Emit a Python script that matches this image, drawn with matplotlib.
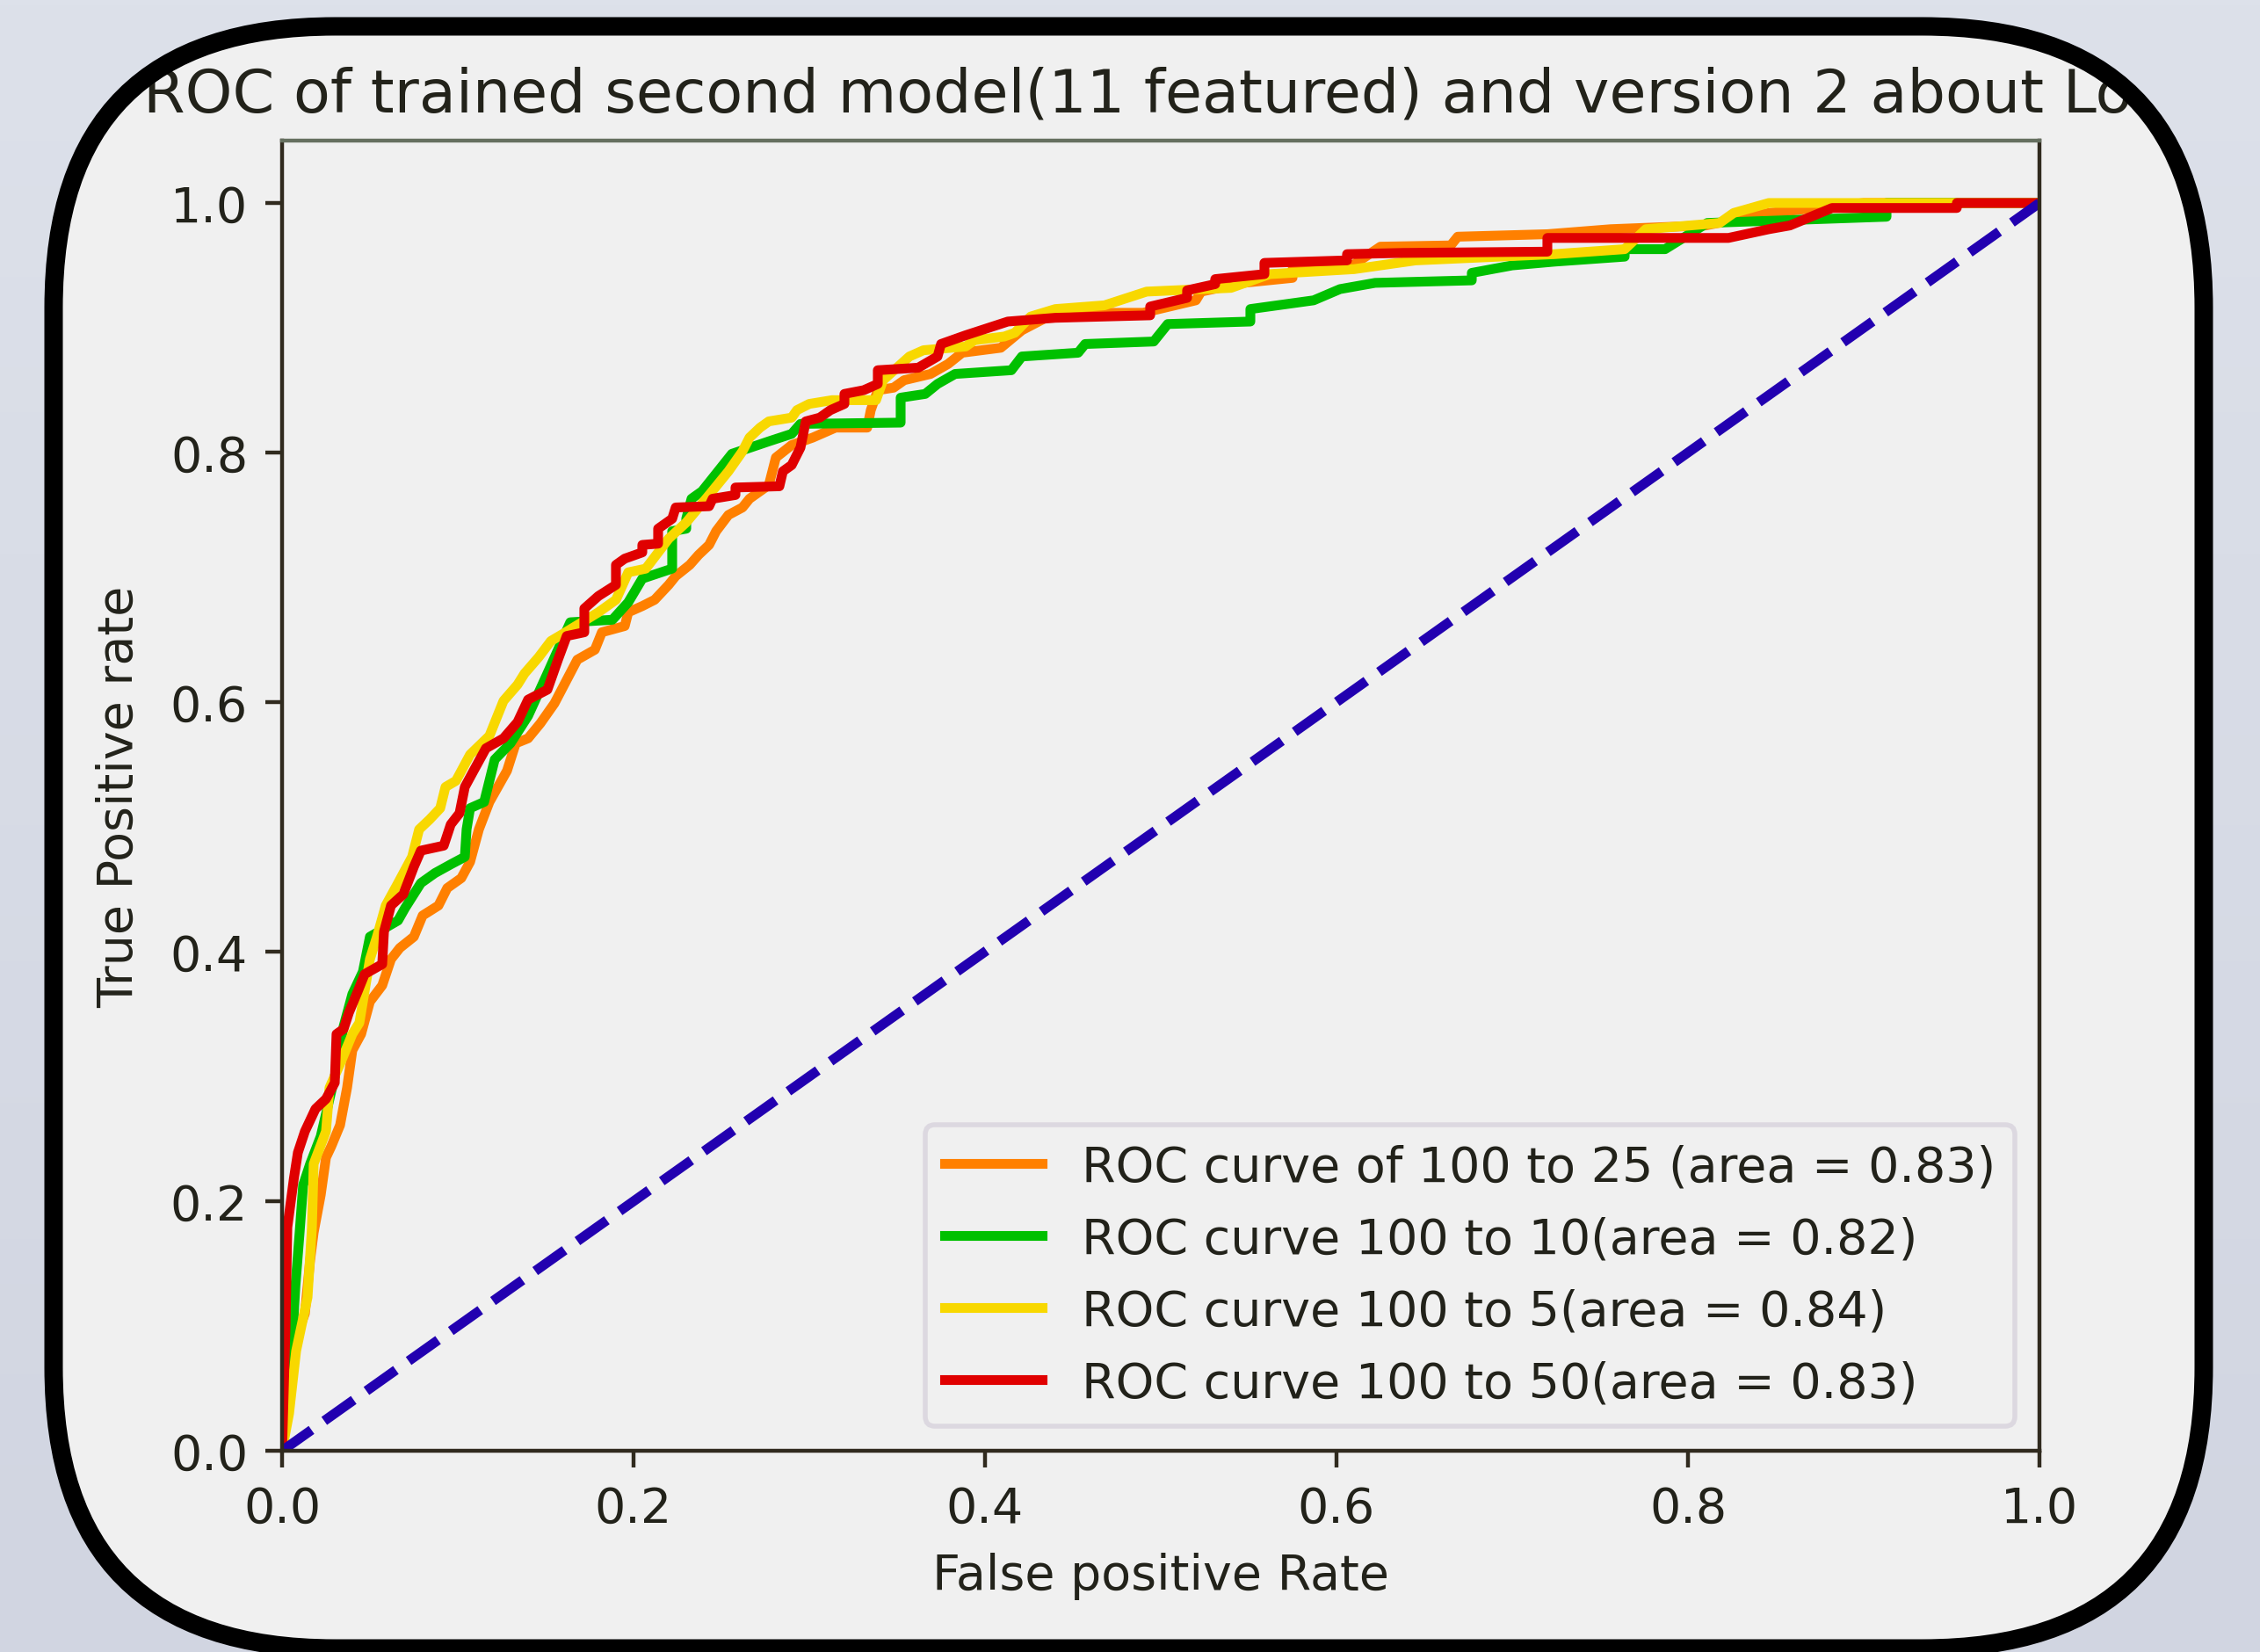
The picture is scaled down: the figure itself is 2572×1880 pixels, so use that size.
import numpy as np
import matplotlib
matplotlib.use('Agg')
import matplotlib.pyplot as plt
from matplotlib.patches import FancyBboxPatch
from matplotlib.colors import LinearSegmentedColormap

# ROC points, (fpr, tpr)
roc_25 = [(0, 0), (0.003, 0.088), (0.0085, 0.093), (0.013, 0.11), (0.016, 0.153), (0.018, 0.175),
          (0.022, 0.205), (0.025, 0.235), (0.028, 0.244), (0.033, 0.261), (0.037, 0.291), (0.04, 0.321),
          (0.045, 0.334), (0.05, 0.36), (0.057, 0.373), (0.062, 0.394), (0.067, 0.403), (0.075, 0.412),
          (0.08, 0.429), (0.089, 0.437), (0.094, 0.451), (0.102, 0.459), (0.107, 0.472), (0.112, 0.498),
          (0.118, 0.52), (0.128, 0.545), (0.133, 0.567), (0.14, 0.571), (0.147, 0.583), (0.155, 0.599),
          (0.168, 0.634), (0.178, 0.642), (0.182, 0.656), (0.195, 0.661), (0.197, 0.672), (0.205, 0.677),
          (0.212, 0.682), (0.22, 0.694), (0.224, 0.701), (0.232, 0.71), (0.237, 0.718), (0.243, 0.726),
          (0.247, 0.737), (0.254, 0.75), (0.262, 0.756), (0.266, 0.763), (0.277, 0.774), (0.281, 0.796),
          (0.29, 0.806), (0.302, 0.812), (0.315, 0.82), (0.333, 0.82), (0.335, 0.834), (0.339, 0.85),
          (0.348, 0.852), (0.354, 0.858), (0.369, 0.863), (0.379, 0.871), (0.387, 0.88), (0.409, 0.884),
          (0.421, 0.898), (0.44, 0.912), (0.49, 0.912), (0.52, 0.922), (0.523, 0.929), (0.547, 0.936),
          (0.575, 0.94), (0.575, 0.947), (0.606, 0.947), (0.625, 0.965), (0.665, 0.966), (0.669, 0.973),
          (0.72, 0.975), (0.756, 0.979), (0.81, 0.982), (0.846, 0.992), (0.9, 1.0), (1.0, 1.0)]

roc_10 = [(0, 0), (0.004, 0.05), (0.006, 0.093), (0.0076, 0.132), (0.01, 0.175), (0.012, 0.213),
          (0.016, 0.23), (0.022, 0.252), (0.03, 0.3), (0.035, 0.34), (0.04, 0.366), (0.046, 0.384),
          (0.05, 0.412), (0.066, 0.425), (0.07, 0.435), (0.079, 0.455), (0.087, 0.463), (0.096, 0.47),
          (0.104, 0.476), (0.105, 0.498), (0.107, 0.515), (0.115, 0.52), (0.118, 0.537), (0.121, 0.554),
          (0.13, 0.567), (0.14, 0.589), (0.151, 0.623), (0.164, 0.664), (0.188, 0.666), (0.197, 0.68),
          (0.205, 0.699), (0.222, 0.707), (0.222, 0.737), (0.23, 0.739), (0.23, 0.747), (0.233, 0.763),
          (0.239, 0.769), (0.256, 0.799), (0.277, 0.809), (0.29, 0.815), (0.295, 0.823), (0.352, 0.824),
          (0.352, 0.844), (0.366, 0.847), (0.373, 0.855), (0.383, 0.863), (0.415, 0.866), (0.421, 0.877),
          (0.453, 0.88), (0.457, 0.887), (0.496, 0.889), (0.504, 0.903), (0.551, 0.905), (0.551, 0.915),
          (0.587, 0.922), (0.602, 0.931), (0.622, 0.936), (0.677, 0.938), (0.677, 0.944), (0.7, 0.95),
          (0.724, 0.953), (0.764, 0.957), (0.764, 0.963), (0.787, 0.963), (0.811, 0.984), (0.913, 0.989),
          (0.913, 1.0), (1.0, 1.0)]

roc_5 = [(0, 0), (0.004, 0.03), (0.008, 0.08), (0.0145, 0.123), (0.017, 0.179), (0.018, 0.23),
         (0.025, 0.256), (0.027, 0.291), (0.033, 0.31), (0.04, 0.334), (0.044, 0.343), (0.05, 0.394),
         (0.054, 0.412), (0.059, 0.437), (0.066, 0.455), (0.074, 0.476), (0.078, 0.498), (0.084, 0.506),
         (0.09, 0.515), (0.093, 0.532), (0.099, 0.537), (0.107, 0.558), (0.118, 0.573), (0.126, 0.601),
         (0.134, 0.614), (0.138, 0.623), (0.146, 0.636), (0.153, 0.649), (0.159, 0.654), (0.18, 0.672),
         (0.19, 0.682), (0.197, 0.704), (0.207, 0.707), (0.22, 0.731), (0.23, 0.744), (0.243, 0.766),
         (0.254, 0.785), (0.262, 0.801), (0.266, 0.812), (0.272, 0.82), (0.277, 0.825), (0.29, 0.828),
         (0.293, 0.834), (0.3, 0.839), (0.313, 0.842), (0.338, 0.842), (0.342, 0.858), (0.357, 0.877),
         (0.365, 0.882), (0.389, 0.885), (0.394, 0.89), (0.411, 0.893), (0.417, 0.896), (0.426, 0.909),
         (0.44, 0.915), (0.468, 0.918), (0.492, 0.929), (0.54, 0.932), (0.562, 0.943), (0.61, 0.947),
         (0.645, 0.954), (0.724, 0.959), (0.764, 0.963), (0.776, 0.979), (0.818, 0.984), (0.826, 0.992),
         (0.846, 1.0), (1.0, 1.0)]

roc_50 = [(0, 0), (0.002, 0.1), (0.003, 0.179), (0.0067, 0.218), (0.009, 0.239), (0.013, 0.256),
          (0.019, 0.274), (0.025, 0.282), (0.03, 0.295), (0.031, 0.334), (0.035, 0.338), (0.038, 0.351),
          (0.043, 0.368), (0.047, 0.382), (0.057, 0.39), (0.058, 0.416), (0.062, 0.437), (0.069, 0.446),
          (0.075, 0.468), (0.079, 0.481), (0.092, 0.485), (0.096, 0.502), (0.101, 0.511), (0.104, 0.532),
          (0.109, 0.545), (0.116, 0.563), (0.126, 0.571), (0.134, 0.584), (0.14, 0.602), (0.151, 0.61),
          (0.157, 0.634), (0.162, 0.653), (0.172, 0.656), (0.172, 0.675), (0.18, 0.685), (0.19, 0.694),
          (0.19, 0.71), (0.195, 0.715), (0.205, 0.72), (0.205, 0.726), (0.214, 0.727), (0.214, 0.739),
          (0.222, 0.747), (0.224, 0.756), (0.243, 0.757), (0.245, 0.763), (0.258, 0.766), (0.258, 0.772),
          (0.283, 0.773), (0.285, 0.785), (0.29, 0.79), (0.295, 0.804), (0.298, 0.825), (0.306, 0.828),
          (0.312, 0.834), (0.32, 0.839), (0.32, 0.847), (0.331, 0.85), (0.339, 0.855), (0.339, 0.866),
          (0.362, 0.868), (0.373, 0.877), (0.375, 0.887), (0.389, 0.894), (0.413, 0.905), (0.44, 0.908),
          (0.494, 0.91), (0.494, 0.917), (0.515, 0.924), (0.515, 0.93), (0.531, 0.935), (0.531, 0.939),
          (0.559, 0.943), (0.559, 0.952), (0.606, 0.954), (0.606, 0.959), (0.638, 0.96), (0.72, 0.961),
          (0.72, 0.972), (0.823, 0.972), (0.846, 0.979), (0.858, 0.982), (0.87, 0.989), (0.882, 0.996),
          (0.953, 0.996), (0.953, 1.0), (1.0, 1.0)]

labels = ['ROC curve of 100 to 25 (area = 0.83)',
          'ROC curve 100 to 10(area = 0.82)',
          'ROC curve 100 to 5(area = 0.84)',
          'ROC curve 100 to 50(area = 0.83)']
colors = ['#ff8000', '#00c000', '#f8d800', '#e00000']
title = 'ROC of trained second model(11 featured) and version 2 about Lo'

W, H, DPI = 2572, 1881, 400
fig = plt.figure(figsize=(W / DPI, H / DPI), dpi=DPI)

# screenshot backdrop: bluish gradient + light rounded card
bg = fig.add_axes([0, 0, 1, 1], zorder=0)
bg.set_xlim(0, W)
bg.set_ylim(H, 0)
bg.axis('off')
cmap = LinearSegmentedColormap.from_list('bg', ['#dde1ea', '#d1d5e1'])
bg.imshow(np.linspace(0, 1, 256)[:, None], cmap=cmap, extent=[0, W, H, 0], aspect='auto')
card = dict(boxstyle='round,pad=0,rounding_size=320')
bg.add_patch(FancyBboxPatch((61, 31), 2447, 1846, facecolor='#f0f0f0', edgecolor='none', **card))

# the chart itself
ax = fig.add_axes([0.1248, 0.1217, 0.7776, 0.7927], zorder=1)
ax.set_facecolor('#f0f0f0')
ink = '#22221a'
for roc, lab, col in zip([roc_25, roc_10, roc_5, roc_50], labels, colors):
    pts = np.array(roc)
    ax.plot(pts[:, 0], pts[:, 1], color=col, lw=2, label=lab)
ax.plot([0, 1], [0, 1], color='#2200b0', lw=2, linestyle='--')
ax.set_xlim(0.0, 1.0)
ax.set_ylim(0.0, 1.05)
ax.set_xlabel('False positive Rate', color=ink)
ax.set_ylabel('True Positive rate', color=ink, labelpad=5.5)
ax.set_title(title, loc='left', x=-0.079, fontsize=12.3, color=ink)
ax.tick_params(colors='#302a1e', labelcolor=ink)
for name, sp in ax.spines.items():
    sp.set_color('#302a1e')
ax.spines['top'].set_color('#667060')
leg = ax.legend(loc='lower right')
leg.get_frame().set_facecolor('#f0f0f0')
leg.get_frame().set_edgecolor('#d8d2dc')
for t in leg.get_texts():
    t.set_color(ink)

# black rounded border on top (covers the clipped title ends)
ov = fig.add_axes([0, 0, 1, 1], zorder=2)
ov.set_xlim(0, W)
ov.set_ylim(H, 0)
ov.axis('off')
ov.patch.set_visible(False)
ov.add_patch(FancyBboxPatch((61, 31), 2447, 1846, facecolor='none', edgecolor='black',
                            lw=21 * 72 / DPI, **card))

fig.savefig('out.png', dpi=DPI)
